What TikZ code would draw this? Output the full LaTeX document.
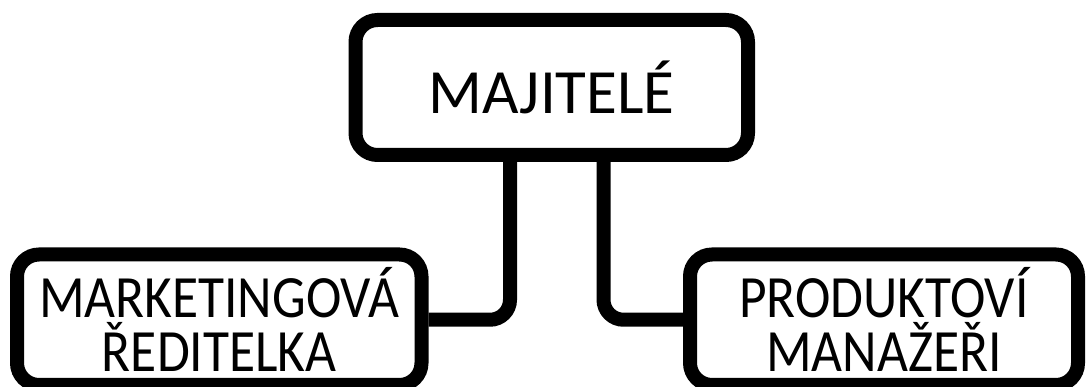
\documentclass[tikz,border=0pt]{standalone}
\usepackage{fontspec}
\setmainfont{Carlito}
\newfontfamily\narrowfont[FakeStretch=0.89]{Carlito}
\begin{document}
\begin{tikzpicture}[x=1pt,y=1pt,
  box/.style={draw=black, line width=14pt, rounded corners=22pt, fill=white,
    align=center, inner sep=0pt},
  topfont/.style={font=\fontsize{63}{54}\selectfont},
  lowfont/.style={font=\narrowfont\fontsize{60}{54}\selectfont},
  conn/.style={draw=black, line width=14pt, rounded corners=20pt}]
\useasboundingbox (0,0) rectangle (1087,387);
\path[fill=white] (0,0) rectangle (1087,387);
\node[box, topfont, minimum width=392.5pt, minimum height=135pt] (top) at (551.75,299.5) {MAJITELÉ};
\node[box, lowfont, minimum width=404.5pt, minimum height=130.5pt] (left) at (219.25,67.25) {MARKETINGOVÁ\\ŘEDITELKA};
\node[box, lowfont, minimum width=388pt, minimum height=130.5pt] (right) at (884,67.25) {PRODUKTOVÍ\\MANAŽEŘI};
\draw[conn] ([xshift=-41.75pt]top.south) |- (left.east);
\draw[conn] ([xshift=51.75pt]top.south) |- (right.west);
\end{tikzpicture}
\end{document}
